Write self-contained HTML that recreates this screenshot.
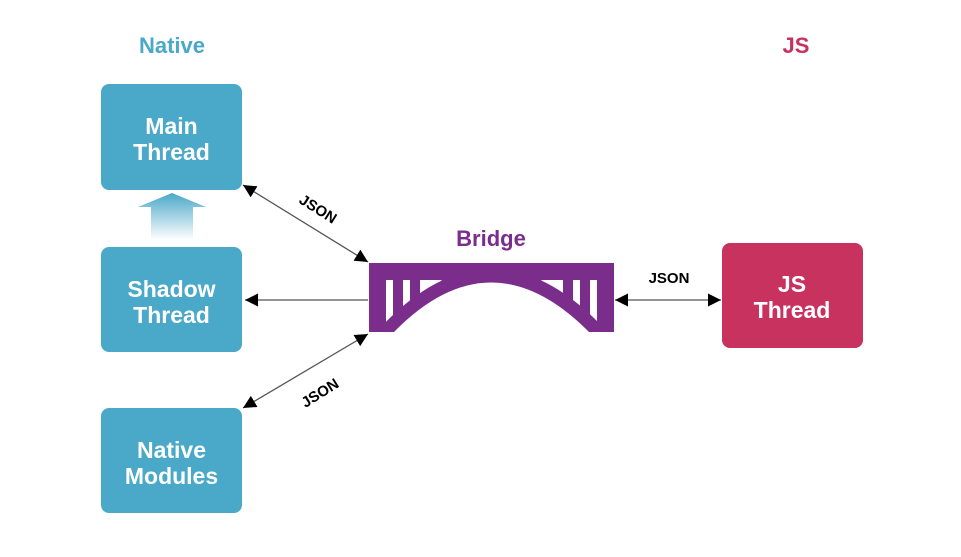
<!DOCTYPE html>
<html><head><meta charset="utf-8"><style>
html,body{margin:0;padding:0;background:#fff;}
svg{display:block;}
text{font-family:"Liberation Sans",sans-serif;font-weight:bold;}
</style></head><body>
<svg width="961" height="557" viewBox="0 0 961 557" xmlns="http://www.w3.org/2000/svg">
<defs>
<linearGradient id="g" x1="0" y1="0" x2="0" y2="1">
<stop offset="0" stop-color="#4aa8c9"/><stop offset="1" stop-color="#4aa8c9" stop-opacity="0"/>
</linearGradient>
<clipPath id="c"><rect x="369" y="263" width="245" height="69"/></clipPath>
<marker id="a" viewBox="0 0 10 10" refX="10" refY="5" markerWidth="13" markerHeight="13" markerUnits="userSpaceOnUse" orient="auto-start-reverse">
<path d="M0,0 L10,5 L0,10 z" fill="#000"/></marker>
</defs>
<text x="172" y="53" font-size="22" fill="#4aa8c9" text-anchor="middle">Native</text>
<text x="796" y="53" font-size="22" fill="#c8325f" text-anchor="middle">JS</text>
<text x="491" y="246" font-size="22" fill="#7b2d8b" text-anchor="middle">Bridge</text>

<rect x="101" y="84" width="141" height="106" rx="8" fill="#4aa8c9"/>
<text x="171.5" y="134" font-size="23" fill="#fff" text-anchor="middle">Main</text>
<text x="171.5" y="160" font-size="23" fill="#fff" text-anchor="middle">Thread</text>
<rect x="101" y="247" width="141" height="105" rx="8" fill="#4aa8c9"/>
<text x="171.5" y="297" font-size="23" fill="#fff" text-anchor="middle">Shadow</text>
<text x="171.5" y="323" font-size="23" fill="#fff" text-anchor="middle">Thread</text>
<rect x="101" y="408" width="141" height="105" rx="8" fill="#4aa8c9"/>
<text x="171.5" y="458" font-size="23" fill="#fff" text-anchor="middle">Native</text>
<text x="171.5" y="484" font-size="23" fill="#fff" text-anchor="middle">Modules</text>
<rect x="722" y="243" width="141" height="105" rx="8" fill="#c8325f"/>
<text x="792" y="292" font-size="23" fill="#fff" text-anchor="middle">JS</text>
<text x="792" y="318" font-size="23" fill="#fff" text-anchor="middle">Thread</text>

<path d="M138,207 L172,193 L206,207 L193,207 L193,240 L151,240 L151,207 z" fill="url(#g)"/>

<g clip-path="url(#c)">
<rect x="369" y="263" width="245" height="69" fill="#7b2d8b"/>
<rect x="386" y="280" width="7" height="45" fill="#fff"/>
<rect x="403" y="280" width="7" height="35" fill="#fff"/>
<path d="M420,280 L442,280 L420,300 z" fill="#fff"/>
<rect x="590" y="280" width="7" height="45" fill="#fff"/>
<rect x="573" y="280" width="7" height="35" fill="#fff"/>
<path d="M563,280 L541,280 L563,300 z" fill="#fff"/>
<path d="M380,340 Q491,214 604,340" fill="none" stroke="#7b2d8b" stroke-width="16"/>
<path d="M393,333 Q491,232 590,333 z" fill="#fff"/>
</g>

<line x1="243" y1="185" x2="368" y2="262" stroke="#555" stroke-width="1.3" marker-start="url(#a)" marker-end="url(#a)"/>
<line x1="368" y1="300" x2="245" y2="300" stroke="#555" stroke-width="1.3" marker-end="url(#a)"/>
<line x1="243" y1="408" x2="368" y2="334" stroke="#555" stroke-width="1.3" marker-start="url(#a)" marker-end="url(#a)"/>
<line x1="615" y1="300" x2="721" y2="300" stroke="#555" stroke-width="1.3" marker-start="url(#a)" marker-end="url(#a)"/>

<text x="318" y="214" font-size="15" fill="#000" text-anchor="middle" transform="rotate(32 318 209)">JSON</text>
<text x="320" y="398" font-size="15" fill="#000" text-anchor="middle" transform="rotate(-32 320 393)">JSON</text>
<text x="669" y="283" font-size="15" fill="#000" text-anchor="middle">JSON</text>
</svg>
</body></html>
